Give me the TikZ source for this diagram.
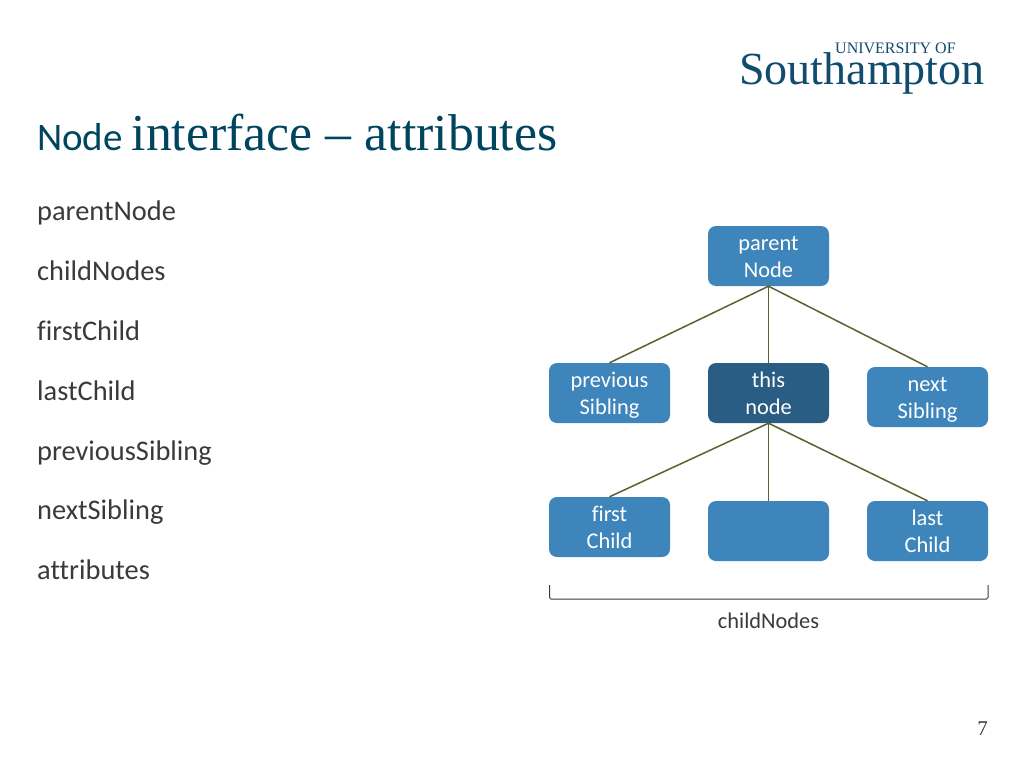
\documentclass[tikz,border=0pt]{standalone}
\usepackage{fontspec}
\setmainfont{Carlito}[Ligatures=NoCommon]
\newfontfamily\titlefont{Liberation Serif}
\definecolor{boxblue}{HTML}{3D85BA}
\definecolor{boxdark}{HTML}{2A5D84}
\definecolor{linkolive}{HTML}{5F5F2D}
\definecolor{headteal}{HTML}{004560}
\definecolor{logoblue}{HTML}{0F4C6E}
\definecolor{bodygrey}{HTML}{3A3A3A}
\newcommand{\boxlines}[2]{\rule[-5.5pt]{0pt}{27pt}#1\\\rule[-5.5pt]{0pt}{27pt}#2}
\tikzset{
  treebox/.style={draw=none, fill=boxblue, rounded corners=8pt, minimum width=121pt, minimum height=60pt,
    inner sep=0pt, align=center, text=white, font=\fontsize{22.4}{27}\selectfont},
  thisbox/.style={treebox, fill=boxdark},
  link/.style={draw=linkolive, line width=1.5pt},
  attr/.style={anchor=base west, inner sep=0pt, text=bodygrey, font=\fontsize{28.4}{32}\selectfont},
}
\begin{document}
\begin{tikzpicture}[x=1pt,y=1pt]
\useasboundingbox (0,0) rectangle (1024,-768);

\node[anchor=base west, inner sep=0pt, text=logoblue, font=\titlefont\fontsize{16}{16}\selectfont] (logotop) at (835,-53.5) {UNIVERSITY OF};
\node[anchor=base west, inner sep=0pt, text=logoblue, font=\titlefont\fontsize{46}{46}\selectfont] (logo) at (739,-84.5) {Southampton};

\node[anchor=base west, inner sep=0pt, text=headteal] (title) at (37,-150)
  {\fontsize{39}{44}\selectfont Node {\titlefont\fontsize{51.8}{54}\selectfont interface – attributes}};

\node[attr] (a1) at (37,-220.5) {parentNode};
\node[attr] (a2) at (37,-280.5) {childNodes};
\node[attr] (a3) at (37,-340) {firstChild};
\node[attr] (a4) at (37,-400) {lastChild};
\node[attr] (a5) at (37,-460) {previousSibling};
\node[attr] (a6) at (37,-519.5) {nextSibling};
\node[attr] (a7) at (37,-579) {attributes};

\node[treebox] (parent) at (768.5,-256) {\boxlines{parent}{Node}};
\node[treebox] (prev) at (609.5,-393) {\boxlines{previous}{Sibling}};
\node[thisbox] (this) at (768.5,-393) {\boxlines{this}{node}};
\node[treebox] (next) at (927.5,-397) {\boxlines{next}{Sibling}};
\node[treebox] (first) at (609.5,-527) {\boxlines{first}{Child}};
\node[treebox] (mid) at (768.5,-531) {};
\node[treebox] (last) at (927.5,-531) {\boxlines{last}{Child}};

\draw[link] (parent.south) to (prev.north);
\draw[link] (parent.south) to (this.north);
\draw[link] (parent.south) to (next.north);
\draw[link] (this.south) to (first.north);
\draw[link] (this.south) to (mid.north);
\draw[link] (this.south) to (last.north);

\coordinate (bl) at (549.5,-585);
\coordinate (br) at (988,-585);
\draw[draw=bodygrey, line width=1pt, rounded corners=1.5pt] (bl) -- ++(0,-14) -| (br);
\node[inner sep=0pt, text=bodygrey, font=\fontsize{22.4}{27}\selectfont] (brace) at (768.5,-621) {childNodes};

\node[inner sep=0pt, text=bodygrey, font=\titlefont\fontsize{21}{24}\selectfont] (page) at (982.5,-729) {7};

\end{tikzpicture}
\end{document}
